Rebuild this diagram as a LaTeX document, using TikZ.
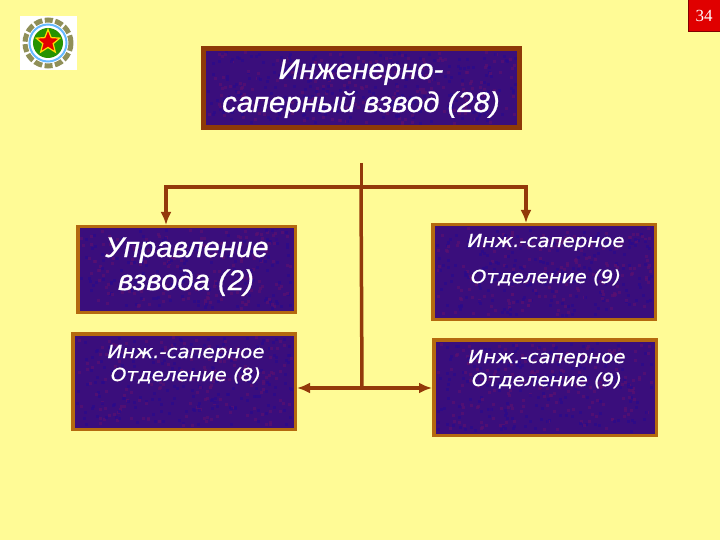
\documentclass[tikz,border=0pt]{standalone}
\usepackage{fontspec}
\setmainfont{Liberation Sans}
\newfontfamily\bigface[FakeBold=0.7,FakeStretch=1.03]{Liberation Sans}
\newfontfamily\smallface[FakeBold=0.7,FakeStretch=1.1]{DejaVu Sans}
\newfontfamily\pageface{Liberation Serif}
\usetikzlibrary{arrows.meta,shapes.geometric}
\definecolor{pagebg}{HTML}{FFFB96}
\definecolor{boxfill}{HTML}{3A0E7C}
\definecolor{mottleA}{HTML}{5A1070}
\definecolor{mottleB}{HTML}{2A0A8C}
\definecolor{edgebrown}{HTML}{8E3A08}
\definecolor{edgeamber}{HTML}{B4690F}
\definecolor{linkbrown}{HTML}{93390A}
\definecolor{gearolive}{HTML}{8F8F58}
\tikzset{
  panel/.style={rectangle,fill=boxfill,draw=edgeamber,line width=3.5pt,inner sep=0pt},
  toppanel/.style={panel,draw=edgebrown,line width=5pt},
  bigtext/.style={anchor=base,text=white,font=\bigface\fontsize{28.5}{30}\selectfont\itshape,inner sep=0pt},
  smalltext/.style={anchor=base,text=white,inner sep=0pt,font=\smallface\fontsize{18}{20}\selectfont\itshape},
  link/.style={draw=linkbrown,line width=3.5pt},
  arrowlink/.style={link,-{Latex[length=13pt,width=11pt]}},
  bothlink/.style={link,{Latex[length=13pt,width=11pt]}-{Latex[length=13pt,width=11pt]}}
}
\newcommand{\mottlebox}[5]{%
  \foreach \k in {1,...,#5}{%
    \pgfmathsetmacro{\mx}{#1+rnd*(#3-#1-3)}%
    \pgfmathsetmacro{\my}{#2+rnd*(#4-#2-3)}%
    \pgfmathsetmacro{\mc}{rnd}%
    \ifdim\mc pt<0.5pt
      \fill[mottleA,opacity=.7] (\mx,\my) rectangle ++(3,3);
    \else
      \fill[mottleB,opacity=.7] (\mx,\my) rectangle ++(3,3);
    \fi
  }}
\begin{document}
\begin{tikzpicture}[x=1pt,y=-1pt]
\pgfmathsetseed{34}
\useasboundingbox (0,0) rectangle (720,540);
\fill[pagebg] (0,0) rectangle (720,540);
% page number
\node[rectangle,fill=red!88!black,draw=red!50!black,line width=1pt,minimum width=32pt,minimum height=32pt,inner sep=0pt] (pagebox) at (704,16) {};
\node[text=white,font=\pageface\fontsize{17}{18}\selectfont,inner sep=0pt] (pagenum) at (704,15.5) {34};
% emblem
\fill[white] (20,16) rectangle (77,70);
\draw[draw=gearolive,line width=5pt,dash pattern=on 8pt off 2.5pt] (48,43) circle (23);
\draw[draw=blue!45!cyan!60!white,line width=2pt] (48,43) circle (18.5);
\fill[green!50!black!85!yellow] (48,43) circle (15);
\node[star,star points=5,star point ratio=2.3,fill=red!90!black,draw=yellow!80!orange,line width=1.2pt,minimum size=25pt,inner sep=0pt] (emblemstar) at (48,42) {};
% boxes
\node[toppanel,minimum width=316pt,minimum height=79pt] (top) at (361.5,88) {};
\node[panel,minimum width=217.5pt,minimum height=85.5pt] (cmd) at (186.5,269.5) {};
\node[panel,minimum width=222.5pt,minimum height=95.5pt] (sq8) at (184,381.5) {};
\node[panel,minimum width=222.5pt,minimum height=94.5pt] (sq9a) at (544,272) {};
\node[panel,minimum width=222.5pt,minimum height=95.5pt] (sq9b) at (545,387.5) {};
\mottlebox{206}{51}{517}{125}{420}
\mottlebox{80}{229}{293}{310}{300}
\mottlebox{75}{336}{293}{427}{350}
\mottlebox{435}{227}{653}{317}{350}
\mottlebox{436}{342}{654}{433}{350}
% texts
\node[bigtext] (t1) at (361,79) {Инженерно-};
\node[bigtext] (t2) at (361,112) {саперный взвод (28)};
\node[bigtext] (c1) at (187,257) {Управление};
\node[bigtext] (c2) at (186,290) {взвода (2)};
\node[smalltext] (a1) at (186,358) {Инж.-саперное};
\node[smalltext] (a2) at (186,381) {Отделение (8)};
\node[smalltext] (b1) at (546,247) {Инж.-саперное};
\node[smalltext] (b2) at (546,283) {Отделение (9)};
\node[smalltext] (d1) at (547,363) {Инж.-саперное};
\node[smalltext] (d2) at (547,386) {Отделение (9)};
% connectors
\coordinate (trunktop) at (361,163);
\coordinate (branch) at (361,187);
\coordinate (elbowL) at (166,187);
\coordinate (elbowR) at (526,187);
\coordinate (hub) at (362,388);
\draw[link,line width=3pt] (trunktop) -- (branch);
\draw[link] (branch) -- (hub);
\draw[arrowlink,line join=miter] (branch) -- (elbowL) -- (elbowL |- cmd.north);
\draw[arrowlink,line join=miter] (branch) -- (elbowR) -- (elbowR |- sq9a.north);
\draw[bothlink] (sq8.east |- hub) -- (sq9b.west |- hub);
\end{tikzpicture}
\end{document}
